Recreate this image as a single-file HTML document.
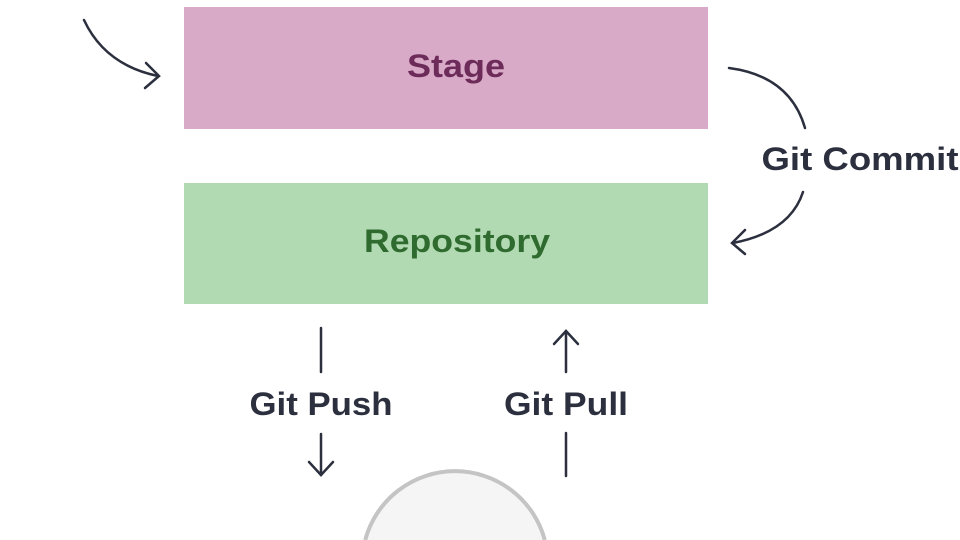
<!DOCTYPE html>
<html><head><meta charset="utf-8"><style>
html,body{margin:0;padding:0;background:#fff;width:960px;height:540px;overflow:hidden}
svg{display:block}
text{font-family:"Liberation Sans",sans-serif;font-weight:bold}
</style></head><body>
<svg width="960" height="540" viewBox="0 0 960 540">
<rect x="184" y="7" width="524" height="122" fill="#d8aac7"/>
<text x="456" y="77" text-anchor="middle" font-size="32" fill="#6d2b5a" textLength="98" lengthAdjust="spacingAndGlyphs">Stage</text>
<rect x="184" y="183" width="524" height="121" fill="#b1d9b2"/>
<text x="457" y="252" text-anchor="middle" font-size="32" fill="#2f6a2f" textLength="186" lengthAdjust="spacingAndGlyphs">Repository</text>
<g fill="none" stroke="#2b2f3e" stroke-width="2.5" stroke-linecap="round">
<path d="M84 20 Q105 65 158 76"/>
<path d="M146 63 L159 76 L145 88"/>
<path d="M729 68 Q790 76 805 128"/>
<path d="M803 192 Q790 232 733 243"/>
<path d="M745 230 L732 243 L745 254"/>
<line x1="321" y1="328" x2="321" y2="372"/>
<line x1="321" y1="434" x2="321" y2="475"/>
<path d="M309 462 L321 475 L333 462"/>
<line x1="566" y1="331" x2="566" y2="372"/>
<path d="M554 344 L566 331 L578 344"/>
<line x1="566" y1="433" x2="566" y2="476"/>
</g>
<text x="860" y="170" text-anchor="middle" font-size="32" fill="#2b2f3e" textLength="197" lengthAdjust="spacingAndGlyphs">Git Commit</text>
<text x="321" y="415" text-anchor="middle" font-size="32" fill="#2b2f3e" textLength="143" lengthAdjust="spacingAndGlyphs">Git Push</text>
<text x="566" y="415" text-anchor="middle" font-size="32" fill="#2b2f3e" textLength="124" lengthAdjust="spacingAndGlyphs">Git Pull</text>
<path d="M365.2 540 A93 93 0 0 1 544.8 540 Z" fill="#f5f5f5"/>
<path d="M365.2 540 A93 93 0 0 1 544.8 540" fill="none" stroke="#c4c4c4" stroke-width="4"/>
</svg>
</body></html>
